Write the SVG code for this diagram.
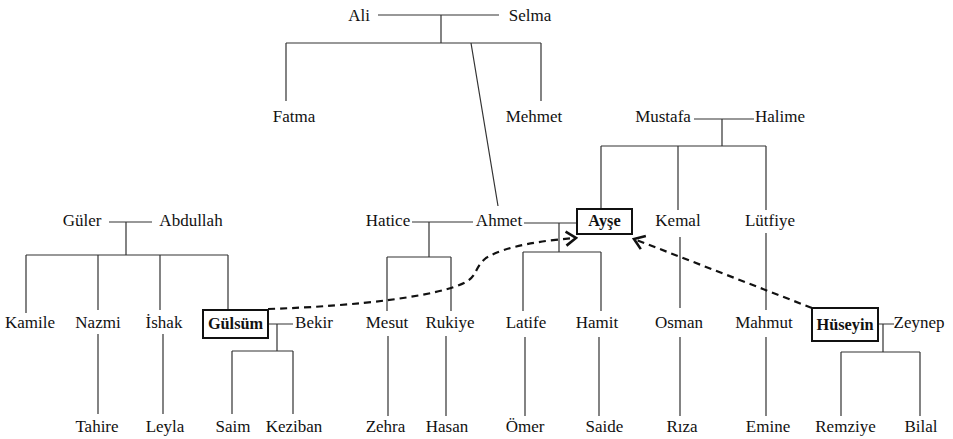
<svg xmlns="http://www.w3.org/2000/svg" width="953" height="439" viewBox="0 0 953 439">
<style>
text{font-family:"Liberation Serif","Times New Roman",serif;font-size:17px;fill:#111;text-anchor:middle}
text.b{font-weight:bold;font-size:16.3px}
.ln{fill:none;stroke:#333;stroke-width:1.2}
.box{fill:#fff;stroke:#111;stroke-width:2}
.dash{fill:none;stroke:#111;stroke-width:2.2;stroke-dasharray:7 5}
</style>
<defs>
<marker id="ah" viewBox="-13 -9 15 18" refX="0" refY="0" markerWidth="15" markerHeight="18" markerUnits="userSpaceOnUse" orient="auto">
<path d="M-10,-7 L0,0 L-10,7" fill="none" stroke="#111" stroke-width="2.6" stroke-dasharray="none"/>
</marker>
</defs>
<rect width="953" height="439" fill="#fff"/>
<g id="connectors">
<path class="ln" d="M378,15 H499 M441,15 V43 M286,43 H541 M286,43 V101 M541,43 V101 M471,43 L498,206"/>
<path class="ln" d="M694,119 H754 M722,119 V146 M601,146 H766 M601,146 V209 M678,146 V210 M766,146 V210"/>
<path class="ln" d="M109,222 H152 M126,222 V255 M26,255 H228 M26,255 V313 M98,255 V310 M160,255 V310 M228,255 V310"/>
<path class="ln" d="M412,222 H473 M429,222 V257 M387,257 H451 M387,257 V311 M451,257 V311"/>
<path class="ln" d="M524,223 H576 M559,223 V252 M523,252 H601 M523,252 V311 M601,252 V311"/>
<path class="ln" d="M268,324 H293 M277,324 V351 M232,351 H293 M232,351 V414 M293,351 V414"/>
<path class="ln" d="M98,334 V414 M163,334 V414 M388,336 V416 M446,336 V416 M525,337 V416 M599,337 V416"/>
<path class="ln" d="M680,237 V308 M680,337 V416 M766,233 V310 M766,337 V416"/>
<path class="ln" d="M878,324 H894 M883,324 V352 M841,352 H920 M841,352 V416 M920,352 V416"/>
<path class="dash" marker-end="url(#ah)" d="M268,309 C360,306 440,296 466,282 C478,275 474,268 486,258 C505,246 545,240 576,238"/>
<path class="dash" marker-end="url(#ah)" d="M812,308 L634,239"/>
</g>
<g id="n-ali"><text x="359" y="21">Ali</text></g>
<g id="n-selma"><text x="530" y="21">Selma</text></g>
<g id="n-fatma"><text x="294" y="122">Fatma</text></g>
<g id="n-mehmet"><text x="534" y="122">Mehmet</text></g>
<g id="n-mustafa"><text x="663" y="122">Mustafa</text></g>
<g id="n-halime"><text x="780" y="122">Halime</text></g>
<g id="n-guler"><text x="82" y="226">Güler</text></g>
<g id="n-abdullah"><text x="191" y="226">Abdullah</text></g>
<g id="n-hatice"><text x="388" y="226">Hatice</text></g>
<g id="n-ahmet"><text x="499" y="226">Ahmet</text></g>
<g id="n-ayse"><rect class="box" x="577" y="209" width="55" height="25"/><text class="b" x="604.5" y="226">Ayşe</text></g>
<g id="n-kemal"><text x="678" y="226">Kemal</text></g>
<g id="n-lutfiye"><text x="770" y="226">Lütfiye</text></g>
<g id="n-kamile"><text x="30" y="328">Kamile</text></g>
<g id="n-nazmi"><text x="98" y="328">Nazmi</text></g>
<g id="n-ishak"><text x="164" y="328">İshak</text></g>
<g id="n-gulsum"><rect class="box" x="203" y="310" width="65" height="28"/><text class="b" x="235.5" y="329">Gülsüm</text></g>
<g id="n-bekir"><text x="314" y="328">Bekir</text></g>
<g id="n-mesut"><text x="387" y="328">Mesut</text></g>
<g id="n-rukiye"><text x="450" y="328">Rukiye</text></g>
<g id="n-latife"><text x="526" y="328">Latife</text></g>
<g id="n-hamit"><text x="597" y="328">Hamit</text></g>
<g id="n-osman"><text x="679" y="328">Osman</text></g>
<g id="n-mahmut"><text x="764" y="328">Mahmut</text></g>
<g id="n-huseyin"><rect class="box" x="812" y="308" width="66" height="33"/><text class="b" x="845" y="330">Hüseyin</text></g>
<g id="n-zeynep"><text x="919" y="328">Zeynep</text></g>
<g id="n-tahire"><text x="97" y="432">Tahire</text></g>
<g id="n-leyla"><text x="165" y="432">Leyla</text></g>
<g id="n-saim"><text x="233" y="432">Saim</text></g>
<g id="n-keziban"><text x="294" y="432">Keziban</text></g>
<g id="n-zehra"><text x="385.5" y="432">Zehra</text></g>
<g id="n-hasan"><text x="447" y="432">Hasan</text></g>
<g id="n-omer"><text x="525" y="432">Ömer</text></g>
<g id="n-saide"><text x="604.5" y="432">Saide</text></g>
<g id="n-riza"><text x="682" y="432">Rıza</text></g>
<g id="n-emine"><text x="768" y="432">Emine</text></g>
<g id="n-remziye"><text x="845.5" y="432">Remziye</text></g>
<g id="n-bilal"><text x="921" y="432">Bilal</text></g>
</svg>
